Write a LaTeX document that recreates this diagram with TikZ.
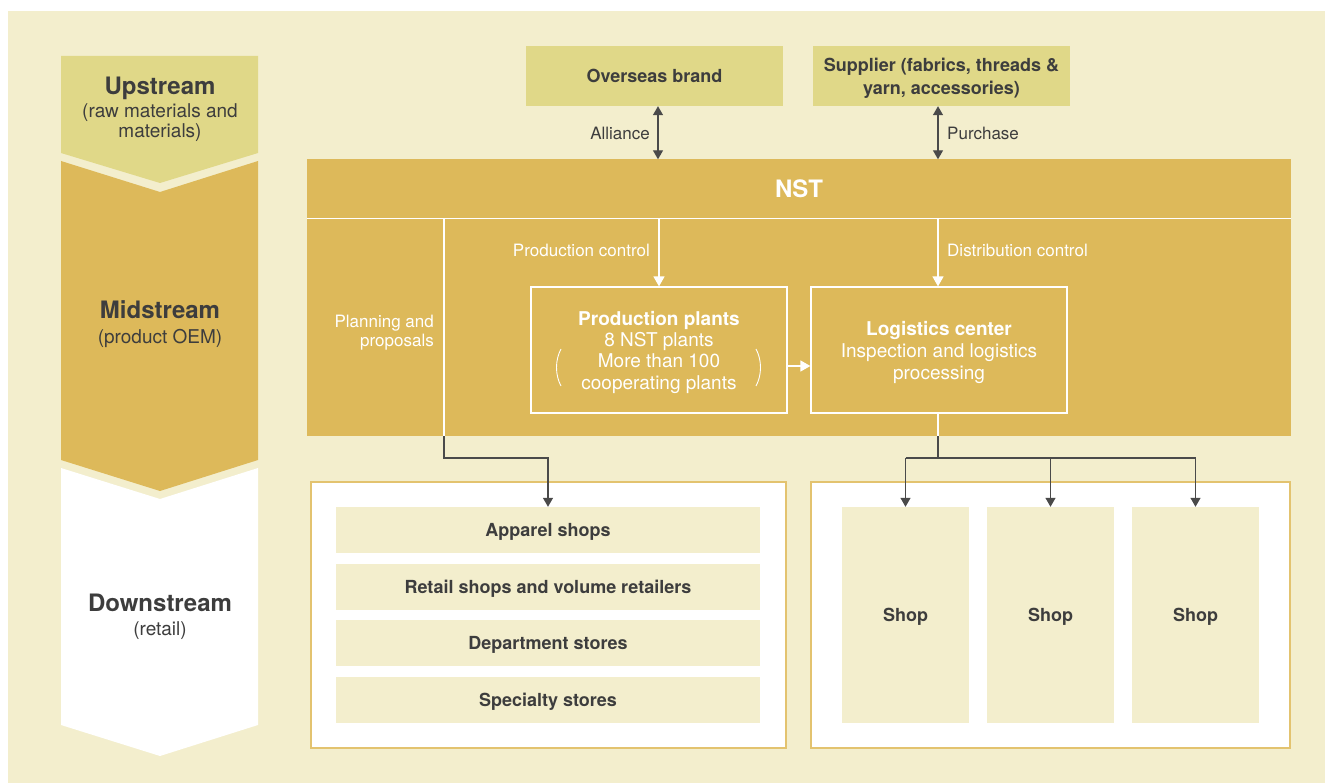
\documentclass[tikz,border=0pt]{standalone}
\usepackage{fontspec}
\setmainfont{TeX Gyre Heros}
\usetikzlibrary{arrows.meta}
\definecolor{cream}{HTML}{F3EECD}
\definecolor{upc}{HTML}{E0D888}
\definecolor{gold}{HTML}{DDB95A}
\definecolor{goldline}{HTML}{E3C36F}
\definecolor{txt}{HTML}{3D3D3D}
\definecolor{conn}{HTML}{4A4A4A}
\tikzset{
  box/.style={inner sep=0pt, align=center, text=txt, text depth=0pt},
  upbox/.style={box, fill=upc, font=\bfseries\fontsize{18}{23}\selectfont},
  barbox/.style={box, fill=cream, minimum width=424pt, minimum height=46pt, font=\bfseries\fontsize{18}{21}\selectfont},
  shopbox/.style={box, fill=cream, minimum width=127pt, minimum height=216pt, font=\bfseries\fontsize{18}{21}\selectfont},
  whitebox/.style={box, draw=white, line width=1.2pt, minimum width=256pt, minimum height=126pt, text=white, font=\fontsize{19}{21.3}\selectfont},
  lbl/.style={inner sep=0pt, text=txt, text depth=0pt, font=\fontsize{17}{19}\selectfont},
  wlbl/.style={inner sep=0pt, text=white, text depth=0pt, font=\fontsize{17}{19}\selectfont, align=right},
  darkarrow/.style={draw=conn, line width=1.3pt, -{Triangle[width=10pt,length=9pt]}},
  dbarrow/.style={draw=conn, line width=1.3pt, {Triangle[width=10pt,length=9pt]}-{Triangle[width=10pt,length=9pt]}},
  whitearrow/.style={draw=white, line width=1.3pt, -{Triangle[width=11pt,length=10pt]}},
  stagebig/.style={inner sep=0pt, text=txt, text depth=0pt, font=\bfseries\fontsize{24}{27}\selectfont},
  stagesmall/.style={inner sep=0pt, text=txt, text depth=0pt, align=center, font=\fontsize{19}{20}\selectfont},
}
\begin{document}
\begin{tikzpicture}[x=1pt,y=-1pt]
\useasboundingbox (0,0) rectangle (1325,783);
\fill[white] (0,0) rectangle (1325,783);
\fill[cream] (8,11) rectangle (1325,783);
% left chevrons
\fill[upc] (61,56) -- (258,56) -- (258,153) -- (160,183) -- (61,153) -- cycle;
\fill[gold] (61,161) -- (160,192) -- (258,161) -- (258,460) -- (160,491) -- (61,460) -- cycle;
\fill[white] (61,468) -- (160,499) -- (258,468) -- (258,725) -- (160,756) -- (61,725) -- cycle;
\node[stagebig] (up) at (160,86) {Upstream};
\node[stagesmall] (upsub) at (160,121) {(raw materials and\\materials)};
\node[stagebig] (mid) at (160,310) {Midstream};
\node[stagesmall] (midsub) at (160,336) {(product OEM)};
\node[stagebig] (down) at (160,603) {Downstream};
\node[stagesmall] (downsub) at (160,629) {(retail)};
% top boxes
\node[upbox, minimum width=257pt, minimum height=60pt] (ob) at (654.5,76) {Overseas brand};
\node[upbox, minimum width=257pt, minimum height=60pt] (sup) at (941.5,76) {Supplier (fabrics, threads \&\\yarn, accessories)};
% NST
\node[box, fill=gold, minimum width=984pt, minimum height=59pt, text=white, font=\bfseries\fontsize{24}{27}\selectfont] (nst) at (799,189) {NST};
\node[box, fill=gold, minimum width=984pt, minimum height=217pt] (body) at (799,327.5) {};
\draw[white, line width=1.2pt] (307,218.5) -- (1291,218.5);
\draw[dbarrow] (ob.south -| 658,108) -- (nst.north -| 658,0);
\draw[dbarrow] (sup.south -| 938,108) -- (nst.north -| 938,0);
\node[lbl, anchor=east] (all) at (650,133) {Alliance};
\node[lbl, anchor=west] (pur) at (947,133) {Purchase};
% production plants / logistics
\node[whitebox] (pp) at (659,350) {\textbf{Production plants}\\8 NST plants\\More than 100\\cooperating plants};
\node[whitebox, font=\fontsize{19}{22}\selectfont] (lc) at (939,350) {\textbf{Logistics center}\\Inspection and logistics\\processing};
\draw[white, line width=0.9pt] (561,349) .. controls (555,360) and (555,375) .. (561,386);
\draw[white, line width=0.9pt] (756,349) .. controls (762,360) and (762,375) .. (756,386);
\coordinate (pcs) at (659,219);
\coordinate (dcs) at (938,219);
\draw[whitearrow] (pcs) -- (pp.north -| pcs);
\draw[whitearrow] (dcs) -- (lc.north -| dcs);
\draw[whitearrow] (pp.east |- 0,366) -- (lc.west |- 0,366);
\node[wlbl, anchor=east] (pcl) at (650,250) {Production control};
\node[wlbl, anchor=west] (dcl) at (947,250) {Distribution control};
\node[wlbl, anchor=east] (ppl) at (434,331) {Planning and\\proposals};
% bottom containers
\node[box, fill=white, draw=goldline, line width=1.2pt, minimum width=475pt, minimum height=266pt] (lb) at (548.5,615) {};
\node[box, fill=white, draw=goldline, line width=1.2pt, minimum width=479pt, minimum height=266pt] (rb) at (1050.5,615) {};
\node[barbox] (b1) at (548,530) {Apparel shops};
\node[barbox] (b2) at (548,587) {Retail shops and volume retailers};
\node[barbox] (b3) at (548,643) {Department stores};
\node[barbox] (b4) at (548,700) {Specialty stores};
\node[shopbox] (s1) at (905.5,615) {Shop};
\node[shopbox] (s2) at (1050.5,615) {Shop};
\node[shopbox] (s3) at (1195.5,615) {Shop};
% planning connector
\coordinate (pl) at (444,219);
\coordinate (plb) at (444,436);
\draw[white, line width=1.2pt] (pl) -- (plb);
\draw[darkarrow] (plb) |- (548,458) -- (b1.north -| 548,0) ;
% logistics connector
\coordinate (lcb) at (938,436);
\coordinate (lcj) at (938,458);
\draw[white, line width=1.2pt] (lc.south -| lcb) -- (lcb);
\draw[conn, line width=1.3pt] (lcb) -- (lcj);
\draw[conn, line width=1.3pt] (905.5,458) -- (1195.5,458);
\draw[darkarrow] (s1.north |- lcj) -- (s1.north);
\draw[darkarrow] (s2.north |- lcj) -- (s2.north);
\draw[darkarrow] (s3.north |- lcj) -- (s3.north);
\end{tikzpicture}
\end{document}
